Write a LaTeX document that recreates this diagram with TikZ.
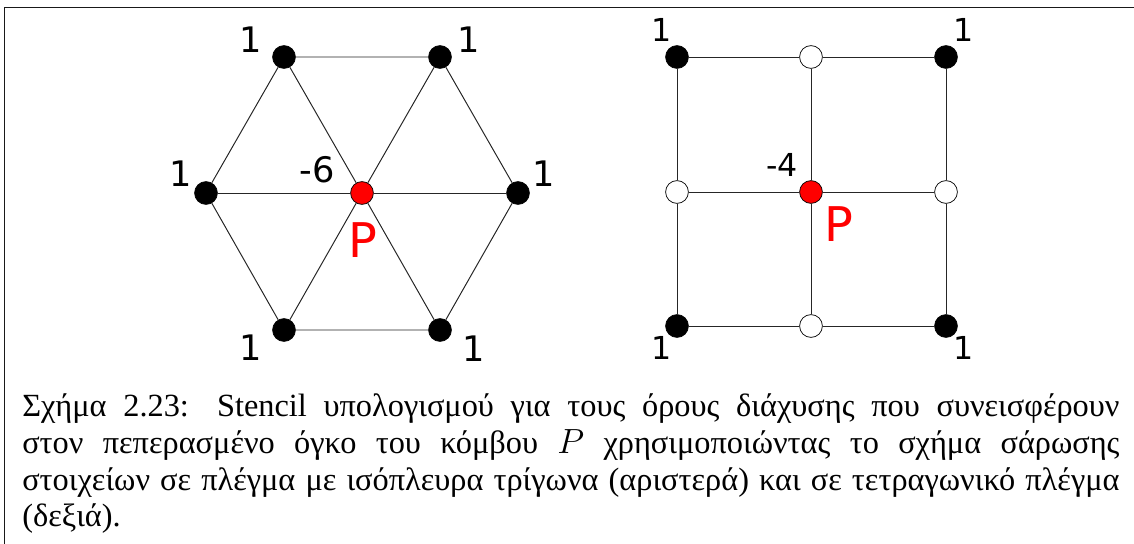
\documentclass[tikz,border=0pt]{standalone}
\usepackage{fontspec}
\newfontfamily\capfont{Liberation Serif}
\newfontfamily\labfont{DejaVu Sans}

\tikzset{
  dot/.style={circle, draw=black, line width=0.5pt, inner sep=0pt, minimum size=0.57cm},
  full/.style={dot, fill=black},
  hollow/.style={dot, fill=white},
  centre/.style={dot, fill=red},
  link/.style={line width=0.7pt, black!85},
  wt/.style={inner sep=0pt, font=\labfont\fontsize{25}{25}\selectfont},
  wtsmall/.style={inner sep=0pt, font=\labfont\fontsize{22.5}{22.5}\selectfont},
  pname/.style={inner sep=0pt, text=red, font=\labfont\fontsize{34}{34}\selectfont},
}

\begin{document}
\begin{tikzpicture}[x=0.025cm, y=-0.025cm]
  \useasboundingbox (0,0) rectangle (1134,544);

  % frame
  \draw[line width=1.4pt, black!90] (4.5,560) -- (4.5,7.5) -- (1150,7.5);

  % triangle mesh nodes
  \node[full] (tl) at (284,57) {};
  \node[full] (tr) at (440,57) {};
  \node[full] (ml) at (206,193) {};
  \node[centre] (pt) at (362,193) {};
  \node[full] (mr) at (518,193) {};
  \node[full] (bl) at (284,330) {};
  \node[full] (br) at (440,330) {};

  % hexagon and spokes
  \draw[link] (tl) -- (tr) -- (mr) -- (br) -- (bl) -- (ml) -- (tl);
  \foreach \n in {tl,tr,mr,br,bl,ml}
    \draw[link] (pt) -- (\n);

  % weights
  \node[wt] (wtl) at (251,40) {1};
  \node[wt] (wtr) at (469,40) {1};
  \node[wt] (wml) at (181,174) {1};
  \node[wt] (wmr) at (544,174) {1};
  \node[wt] (wbl) at (251,348) {1};
  \node[wt] (wbr) at (474,349) {1};
  \node[wt] (wpt) at (317,170) {-6};
  \node[pname] (lpt) at (363,240) {P};

  % square mesh nodes
  \node[full] (q11) at (677,57) {};
  \node[hollow] (q12) at (811,57) {};
  \node[full] (q13) at (946,57) {};
  \node[hollow] (q21) at (677,192) {};
  \node[centre] (qp) at (811,192) {};
  \node[hollow] (q23) at (946,192) {};
  \node[full] (q31) at (677,326) {};
  \node[hollow] (q32) at (811,326) {};
  \node[full] (q33) at (946,326) {};

  % grid lines
  \draw[link] (q11) -- (q12) -- (q13);
  \draw[link] (q21) -- (qp) -- (q23);
  \draw[link] (q31) -- (q32) -- (q33);
  \draw[link] (q11) -- (q21) -- (q31);
  \draw[link] (q12) -- (qp) -- (q32);
  \draw[link] (q13) -- (q23) -- (q33);

  % weights
  \node[wtsmall] (v11) at (662,30) {1};
  \node[wtsmall] (v13) at (964,30) {1};
  \node[wtsmall] (v31) at (662,348) {1};
  \node[wtsmall] (v33) at (964,348) {1};
  \node[wtsmall] (vp) at (782,165) {-4};
  \node[pname] (lqp) at (839,224) {P};

  % caption
  \node[anchor=base west, inner sep=0pt, text width=27.425cm, align=justify,
        font=\capfont\fontsize{23}{26}\selectfont] (cap) at (22,417)
    {Σχήμα 2.23: Stencil υπολογισμού για τους όρους διάχυσης που συνεισφέρουν\linebreak
     στον πεπερασμένο όγκο του κόμβου $P$ χρησιμοποιώντας το σχήμα σάρωσης\linebreak
     στοιχείων σε πλέγμα με ισόπλευρα τρίγωνα (αριστερά) και σε τετραγωνικό πλέγμα\linebreak
     (δεξιά).};
\end{tikzpicture}
\end{document}
